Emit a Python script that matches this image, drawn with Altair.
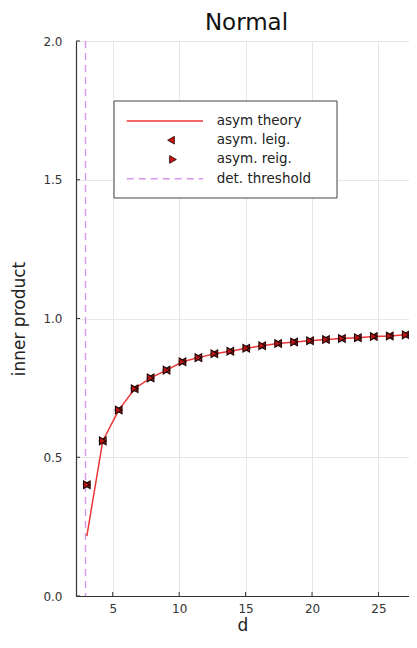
import altair as alt
import pandas as pd

FONT = "DejaVu Sans"

# ---- data ----
d_vals = [3.05, 4.25, 5.45, 6.65, 7.85, 9.05, 10.25, 11.45, 12.65, 13.85, 15.05,
          16.25, 17.45, 18.65, 19.85, 21.05, 22.25, 23.45, 24.65, 25.85, 27.05]
theory_vals = [0.216, 0.559, 0.670, 0.747, 0.786, 0.814, 0.844, 0.859, 0.873, 0.882, 0.893,
               0.902, 0.910, 0.915, 0.920, 0.924, 0.928, 0.931, 0.935, 0.937, 0.941]
leig_vals = [0.401, 0.559, 0.670, 0.747, 0.786, 0.814, 0.844, 0.859, 0.873, 0.882, 0.893,
             0.902, 0.910, 0.915, 0.920, 0.924, 0.928, 0.931, 0.935, 0.937, 0.941]
reig_vals = [0.401, 0.559, 0.670, 0.747, 0.786, 0.814, 0.844, 0.859, 0.873, 0.882, 0.893,
             0.902, 0.910, 0.915, 0.920, 0.924, 0.928, 0.931, 0.935, 0.937, 0.941]
threshold_d = [2.95]
x_ticks = [5, 10, 15, 20, 25]
y_ticks = [0.0, 0.5, 1.0, 1.5, 2.0]
legend_labels = ["asym theory", "asym. leig.", "asym. reig.", "det. threshold"]
legend_kind = ["line", "left", "right", "dash"]

RED_LINE = "#ee3636"
RED_FILL = "#b81414"
DARK = "#1e0505"
PLUM = "#d496f0"

W, H = 333, 555

xs = alt.Scale(domain=[2.235, 27.3], nice=False, zero=False)
ys = alt.Scale(domain=[0, 2], nice=False, zero=False)

x_axis = alt.Axis(values=x_ticks, title="d", labelPadding=7, titlePadding=3, format="d")
y_axis = alt.Axis(values=y_ticks, title="inner product", format=".1f",
                  labelPadding=14, titlePadding=14)


def X(field):
    return alt.X(f"{field}:Q", scale=xs, axis=x_axis)


def Y(field):
    return alt.Y(f"{field}:Q", scale=ys, axis=y_axis)


df = pd.DataFrame({"d": d_vals, "theory": theory_vals, "leig": leig_vals, "reig": reig_vals})
thr_df = pd.DataFrame({"d": threshold_d})
xt_df = pd.DataFrame({"d": x_ticks})
yt_df = pd.DataFrame({"theory": y_ticks})

theory = alt.Chart(df).mark_line(color=RED_LINE, strokeWidth=1.5).encode(x=X("d"), y=Y("theory"))
threshold = alt.Chart(thr_df).mark_rule(color=PLUM, strokeWidth=1.4, strokeDash=[7, 5]).encode(x=X("d"))
leig = alt.Chart(df).mark_point(shape="triangle-left", filled=True, fill=RED_FILL, stroke=DARK,
                                strokeWidth=1.1, size=58, opacity=1).encode(x=X("d"), y=Y("leig"))
reig = alt.Chart(df).mark_point(shape="triangle-right", filled=True, fill=RED_FILL, stroke=DARK,
                                strokeWidth=1.1, size=58, opacity=1).encode(x=X("d"), y=Y("reig"))
xticks = alt.Chart(xt_df).mark_rule(color="#333", strokeWidth=1).encode(
    x=X("d"), y=alt.value(H), y2=alt.value(H - 4))
yticks = alt.Chart(yt_df).mark_rule(color="#333", strokeWidth=1).encode(
    y=Y("theory"), x=alt.value(0), x2=alt.value(4))

main = alt.layer(threshold, theory, leig, reig, xticks, yticks)

# ---- legend ----
leg_df = pd.DataFrame({"label": legend_labels, "kind": legend_kind})
ly = alt.Y("label:N", scale=alt.Scale(type="point", domain=legend_labels, range=[80, 137.7], padding=0),
           axis=None)

box = alt.Chart(pd.DataFrame({"box": [1]})).mark_rect(fill="white", stroke="#444", strokeWidth=1).encode(
    x=alt.value(38), x2=alt.value(261), y=alt.value(60), y2=alt.value(157))
leg_text = alt.Chart(leg_df).mark_text(align="left", baseline="middle", font=FONT, fontSize=13.5,
                                       color="#222").encode(x=alt.value(140.7), y=ly, text="label:N")
leg_line = alt.Chart(leg_df).transform_filter(alt.datum.kind == "line").mark_rule(
    color=RED_LINE, strokeWidth=1.5).encode(x=alt.value(50.7), x2=alt.value(127), y=ly)
leg_dash = alt.Chart(leg_df).transform_filter(alt.datum.kind == "dash").mark_rule(
    color=PLUM, strokeWidth=1.4, strokeDash=[7, 5]).encode(x=alt.value(50.7), x2=alt.value(127), y=ly)
leg_left = alt.Chart(leg_df).transform_filter(alt.datum.kind == "left").mark_point(
    shape="triangle-left", filled=True, fill="#cc1414", stroke=DARK, strokeWidth=0.8, size=60,
    opacity=1).encode(x=alt.value(95), y=ly)
leg_right = alt.Chart(leg_df).transform_filter(alt.datum.kind == "right").mark_point(
    shape="triangle-right", filled=True, fill="#cc1414", stroke=DARK, strokeWidth=0.8, size=60,
    opacity=1).encode(x=alt.value(97), y=ly)

legend = alt.layer(box, leg_line, leg_dash, leg_left, leg_right, leg_text)

chart = alt.layer(main, legend).resolve_scale(y="independent").properties(
    width=W, height=H,
    title=alt.TitleParams("Normal", fontSize=23, font=FONT, fontWeight="normal", color="#111",
                          anchor="middle", offset=0, dx=4),
    autosize=alt.AutoSizeParams(type="none"),
    padding={"left": 68, "top": 33, "right": 0, "bottom": 42},
).configure_view(stroke=None).configure_axis(
    domainColor="#333", domainWidth=1.2, ticks=False, gridColor="#e6e6e6", gridWidth=1,
    labelFont=FONT, titleFont=FONT, labelFontSize=12, titleFontSize=17, titleFontWeight="normal",
    labelColor="#333", titleColor="#222",
)

chart.save("out.html", embed_options={"renderer": "svg", "actions": False})
